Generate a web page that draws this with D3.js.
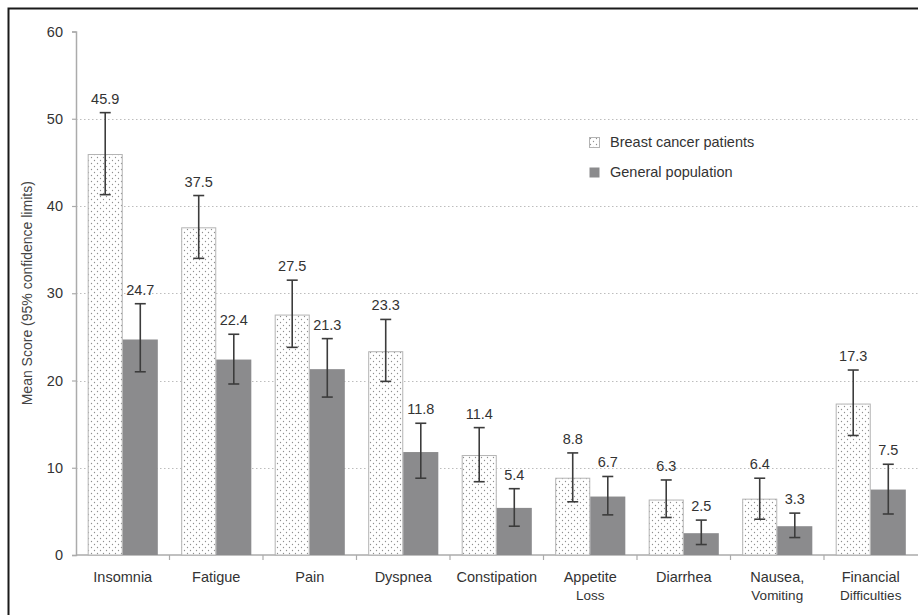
<!DOCTYPE html>
<html>
<head>
<meta charset="utf-8">
<script src="https://cdn.jsdelivr.net/npm/d3@7/dist/d3.min.js"></script>
<style>
  html, body { margin: 0; padding: 0; background: #fff; }
  svg { display: block; font-family: "Liberation Sans", Arial, Helvetica, sans-serif; }
</style>
</head>
<body>
<svg id="chart" width="918" height="615"></svg>
<script>
// Symptom scales: mean scores with 95% confidence limits
const categories = ["Insomnia", "Fatigue", "Pain", "Dyspnea", "Constipation",
  "Appetite Loss", "Diarrhea", "Nausea, Vomiting", "Financial Difficulties"];
const categoryLines = [["Insomnia"], ["Fatigue"], ["Pain"], ["Dyspnea"], ["Constipation"],
  ["Appetite", "Loss"], ["Diarrhea"], ["Nausea,", "Vomiting"], ["Financial", "Difficulties"]];

const seriesNames = ["Breast cancer patients", "General population"];

const bcpMean = [45.9, 37.5, 27.5, 23.3, 11.4, 8.8, 6.3, 6.4, 17.3];
const bcpLow  = [41.3, 34.0, 23.8, 19.9, 8.4, 6.1, 4.3, 4.1, 13.7];
const bcpHigh = [50.7, 41.2, 31.5, 27.0, 14.6, 11.7, 8.6, 8.8, 21.2];

const gpMean = [24.7, 22.4, 21.3, 11.8, 5.4, 6.7, 2.5, 3.3, 7.5];
const gpLow  = [21.0, 19.6, 18.1, 8.8, 3.3, 4.6, 1.2, 2.0, 4.7];
const gpHigh = [28.8, 25.3, 24.8, 15.1, 7.6, 9.0, 4.0, 4.8, 10.4];

const yTicks = [0, 10, 20, 30, 40, 50, 60];
const yGrid = [10, 20, 30, 40, 50];
const yTitle = "Mean Score (95% confidence limits)";

const svg = d3.select("#chart");
const textColor = "#333";
const axisColor = "#ababab";
const fontSize = "14.5px";

// dotted fill for the patient bars
const defs = svg.append("defs");
const pat = defs.append("pattern")
  .attr("id", "dots").attr("patternUnits", "userSpaceOnUse")
  .attr("width", 6).attr("height", 6);
pat.append("rect").attr("width", 6).attr("height", 6).attr("fill", "#fff");
pat.append("circle").attr("cx", 1.5).attr("cy", 1.5).attr("r", 0.65).attr("fill", "#8f8f8f");
pat.append("circle").attr("cx", 4.5).attr("cy", 4.5).attr("r", 0.65).attr("fill", "#8f8f8f");

const fills = ["url(#dots)", "#8b8b8d"];
const strokes = ["#b4b4b4", "none"];

const plotLeft = 76, plotRight = 917.5, plotTop = 31.5, plotBottom = 555;

const x = d3.scaleBand().domain(categories).range([plotLeft, plotRight])
  .paddingInner(0.25).paddingOuter(0.125);
const step = x.step();
const xs = d3.scaleBand().domain([0, 1]).range([0, x.bandwidth()]);
const y = d3.scaleLinear().domain([0, 60]).range([plotBottom, plotTop]);

// frame
svg.append("rect").attr("x", 8.5).attr("y", 8.5).attr("width", 1000).attr("height", 1000)
  .attr("fill", "none").attr("stroke", "#1a1a1a").attr("stroke-width", 2);

// gridlines
svg.append("g").selectAll("line").data(yGrid).join("line")
  .attr("x1", plotLeft).attr("x2", 918)
  .attr("y1", d => Math.round(y(d)) + 0.5).attr("y2", d => Math.round(y(d)) + 0.5)
  .attr("stroke", "#bdbdbd").attr("stroke-width", 1.2).attr("stroke-dasharray", "1.5,2.5");

// y axis
const yAxis = svg.append("g").attr("transform", `translate(${plotLeft},0)`)
  .call(d3.axisLeft(y).tickValues(yTicks).tickSize(4).tickPadding(9));
yAxis.attr("font-family", null).attr("font-size", null);
yAxis.select(".domain").attr("stroke", axisColor).attr("stroke-width", 1.5);
yAxis.selectAll(".tick line").attr("stroke", axisColor).attr("stroke-width", 1.2);
yAxis.selectAll(".tick text").attr("fill", textColor).style("font-size", fontSize);

svg.append("text")
  .attr("transform", `translate(32,${(y(0) + y(60)) / 2}) rotate(-90)`)
  .attr("text-anchor", "middle").attr("fill", "#444")
  .style("font-size", "14px").text(yTitle);

// x axis line and category boundary ticks
svg.append("line").attr("x1", plotLeft).attr("x2", 918)
  .attr("y1", plotBottom).attr("y2", plotBottom)
  .attr("stroke", axisColor).attr("stroke-width", 1.5);
svg.append("g").selectAll("line").data(categories.slice(1)).join("line")
  .attr("x1", d => x(d) - step * 0.125).attr("x2", d => x(d) - step * 0.125)
  .attr("y1", plotBottom).attr("y2", plotBottom + 5)
  .attr("stroke", axisColor).attr("stroke-width", 1.2);

// category labels
const labels = svg.append("g").selectAll("text").data(categories).join("text")
  .attr("text-anchor", "middle").attr("fill", textColor)
  .attr("x", d => x(d) + x.bandwidth() / 2)
  .attr("y", plotBottom + 27);
labels.each(function(d, i) {
  const t = d3.select(this);
  categoryLines[i].forEach((line, j) => {
    t.append("tspan").attr("x", x(d) + x.bandwidth() / 2)
      .attr("dy", j === 0 ? 0 : 18)
      .style("font-size", j === 0 ? fontSize : "13.5px")
      .text(line);
  });
});

// bars, error bars and value labels
const series = [
  { means: bcpMean, lows: bcpLow, highs: bcpHigh },
  { means: gpMean, lows: gpLow, highs: gpHigh }
];
const capHalf = 5.5;

series.forEach((s, k) => {
  const rows = categories.map((c, i) => ({ c, m: s.means[i], lo: s.lows[i], hi: s.highs[i] }));
  const g = svg.append("g");
  g.selectAll("rect").data(rows).join("rect")
    .attr("x", d => x(d.c) + xs(k) + (k === 0 ? 0.5 : 0))
    .attr("width", xs.bandwidth() - (k === 0 ? 1 : 0))
    .attr("y", d => y(d.m))
    .attr("height", d => y(0) - y(d.m))
    .attr("fill", fills[k]).attr("stroke", strokes[k]).attr("stroke-width", 1);

  const cx = d => x(d.c) + xs(k) + xs.bandwidth() / 2;
  const eb = svg.append("g").attr("stroke", "#3c3c3c").attr("stroke-width", 1.6);
  eb.selectAll("line.v").data(rows).join("line").attr("class", "v")
    .attr("x1", cx).attr("x2", cx).attr("y1", d => y(d.lo)).attr("y2", d => y(d.hi));
  eb.selectAll("line.t").data(rows).join("line").attr("class", "t")
    .attr("x1", d => cx(d) - capHalf).attr("x2", d => cx(d) + capHalf)
    .attr("y1", d => y(d.hi)).attr("y2", d => y(d.hi));
  eb.selectAll("line.b").data(rows).join("line").attr("class", "b")
    .attr("x1", d => cx(d) - capHalf).attr("x2", d => cx(d) + capHalf)
    .attr("y1", d => y(d.lo)).attr("y2", d => y(d.lo));

  svg.append("g").selectAll("text").data(rows).join("text")
    .attr("x", cx).attr("y", d => y(d.hi) - 9)
    .attr("text-anchor", "middle").attr("fill", textColor)
    .style("font-size", fontSize).text(d => d.m.toFixed(1));
});

// legend
const legend = svg.append("g").attr("transform", "translate(589,137)");
seriesNames.forEach((name, k) => {
  legend.append("rect").attr("x", 0.5).attr("y", k * 30 + 0.5).attr("width", 10).attr("height", 10)
    .attr("fill", fills[k]).attr("stroke", k === 0 ? "#b4b4b4" : "none");
  legend.append("text").attr("x", 21).attr("y", k * 30 + 10)
    .attr("fill", textColor).style("font-size", fontSize).text(name);
});
</script>
</body>
</html>
